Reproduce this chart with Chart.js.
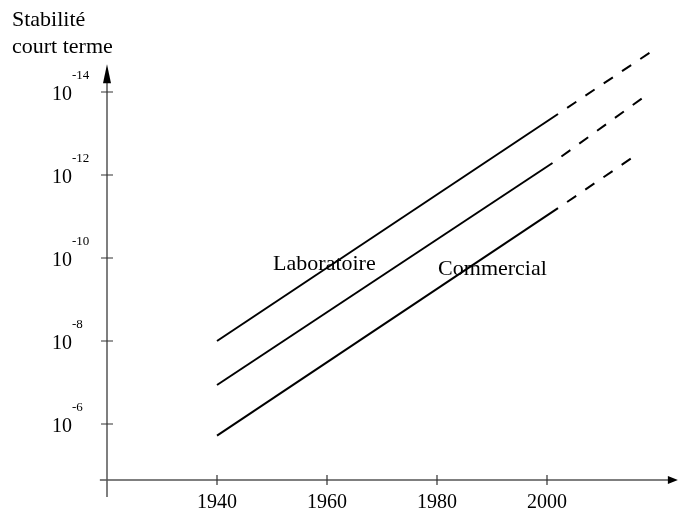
<!DOCTYPE html>
<html>
<head>
<meta charset="utf-8">
<script src="https://cdn.jsdelivr.net/npm/chart.js@4"></script>
<style>
  html, body { margin: 0; padding: 0; background: #fff; }
  canvas { display: block; }
</style>
</head>
<body>
<canvas id="chart" width="678" height="514"></canvas>
<script>
// tick labels
const xTicks = [1940, 1960, 1980, 2000];
const yExponents = [-6, -8, -10, -12, -14];

// three lines: solid part 1940 -> ~2000, then dashed projection
const topYears = [1940, 2002, 2018.7];
const topExp = [-8, -13.47, -14.95];
const midYears = [1940, 2001, 2017.3];
const midExp = [-6.94, -12.29, -13.85];
const lowYears = [1940, 2002, 2015.3];
const lowExp = [-5.72, -11.2, -12.4];

const lineLabels = ['Laboratoire', 'Commercial'];

const ctx = document.getElementById('chart').getContext('2d');
const serif = "'Liberation Serif', 'Times New Roman', serif";

function pts(years, vals, from, to) {
    const out = [];
    for (let i = from; i <= to; i++) out.push({x: years[i], y: vals[i]});
    return out;
}

function solid(years, vals) {
    return {data: pts(years, vals, 0, 1), borderColor: '#000', borderWidth: 2,
        pointRadius: 0, fill: false, tension: 0};
}
function dashed(years, vals) {
    return {data: pts(years, vals, 1, 2), borderColor: '#000', borderWidth: 2,
        borderDash: [11, 11], borderDashOffset: 11,
        pointRadius: 0, fill: false, tension: 0};
}

// axes, arrows, ticks and texts drawn by hand
const axesPlugin = {
    id: 'axes',
    afterDatasetsDraw(chart) {
        const c = chart.ctx;
        const xs = chart.scales.x, ys = chart.scales.y;
        const x0 = xs.getPixelForValue(1920);
        const y0 = ys.getPixelForValue(-4.65);
        const xLeft = xs.getPixelForValue(1918.7);
        const xRight = xs.getPixelForValue(2023.8);
        const yTop = ys.getPixelForValue(-14.67);
        const yBottom = ys.getPixelForValue(-4.24);

        c.save();
        c.strokeStyle = '#555';
        c.lineWidth = 1.5;
        c.beginPath();
        c.moveTo(x0, yBottom); c.lineTo(x0, yTop + 10);
        c.moveTo(xLeft, y0); c.lineTo(xRight - 6, y0);
        c.stroke();

        // arrow heads
        c.fillStyle = '#000';
        c.beginPath();
        c.moveTo(x0, yTop); c.lineTo(x0 - 4, yTop + 19); c.lineTo(x0 + 4, yTop + 19);
        c.closePath(); c.fill();
        c.beginPath();
        c.moveTo(xRight, y0); c.lineTo(xRight - 10, y0 - 4); c.lineTo(xRight - 10, y0 + 4);
        c.closePath(); c.fill();

        // ticks
        c.strokeStyle = '#333';
        c.lineWidth = 1.2;
        c.beginPath();
        yExponents.forEach(e => {
            const p = ys.getPixelForValue(e);
            c.moveTo(x0 - 6, p); c.lineTo(x0 + 6, p);
        });
        xTicks.forEach(t => {
            const p = xs.getPixelForValue(t);
            c.moveTo(p, y0 - 5); c.lineTo(p, y0 + 5);
        });
        c.stroke();

        c.fillStyle = '#000';
        c.textBaseline = 'alphabetic';
        // y labels 10^e
        yExponents.forEach(e => {
            const p = ys.getPixelForValue(e);
            c.font = '20px ' + serif;
            c.textAlign = 'right';
            c.fillText('10', 72, p + 8);
            c.font = '13px ' + serif;
            c.textAlign = 'left';
            c.fillText(String(e), 72, p - 13);
        });
        // x labels
        c.font = '20px ' + serif;
        c.textAlign = 'center';
        xTicks.forEach(t => {
            c.fillText(String(t), xs.getPixelForValue(t), 508);
        });

        // axis title
        c.font = '22px ' + serif;
        c.textAlign = 'left';
        c.fillText('Stabilité', 12, 26);
        c.fillText('court terme', 12, 53);

        // line labels
        c.fillText(lineLabels[0], xs.getPixelForValue(1950.2), ys.getPixelForValue(-9.71));
        c.fillText(lineLabels[1], xs.getPixelForValue(1980.2), ys.getPixelForValue(-9.59));
        c.restore();
    }
};

new Chart(ctx, {
    type: 'line',
    data: {
        datasets: [
            solid(topYears, topExp), dashed(topYears, topExp),
            solid(midYears, midExp), dashed(midYears, midExp),
            solid(lowYears, lowExp), dashed(lowYears, lowExp)
        ]
    },
    options: {
        responsive: false,
        animation: false,
        layout: {padding: 0},
        scales: {
            x: {type: 'linear', min: 1900.545, max: 2023.818, display: false},
            y: {type: 'linear', min: -16.217, max: -3.831, reverse: true, display: false}
        },
        plugins: {
            legend: {display: false},
            tooltip: {enabled: false}
        }
    },
    plugins: [axesPlugin]
});
</script>
</body>
</html>
